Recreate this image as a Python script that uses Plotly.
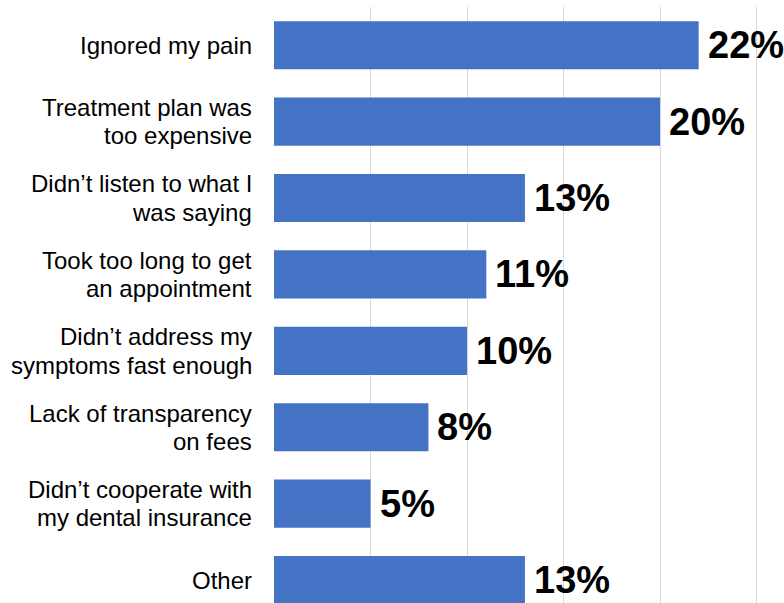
import plotly.graph_objects as go

# Reasons given for leaving a dentist (share of respondents, %)
categories = [
    "Ignored my pain",
    "Treatment plan was<br>too expensive",
    "Didn’t listen to what I<br>was saying",
    "Took too long to get<br>an appointment",
    "Didn’t address my<br>symptoms fast enough",
    "Lack of transparency<br>on fees",
    "Didn’t cooperate with<br>my dental insurance",
    "Other",
]
values = [22, 20, 13, 11, 10, 8, 5, 13]
label_texts = [f"{v}%" for v in values]

BAR_COLOR = "#4472C4"
FONT = "Liberation Sans, Arial, sans-serif"
LINE_STEP = 28.5  # px between wrapped lines of a category label

fig = go.Figure(
    go.Bar(
        x=values,
        y=list(range(len(categories))),
        orientation="h",
        marker=dict(color=BAR_COLOR, line=dict(width=0)),
        width=0.63,
        hoverinfo="skip",
    )
)

# Bold percentage labels just past the end of each bar
for i, (v, t) in enumerate(zip(values, label_texts)):
    fig.add_annotation(
        x=v, y=i, xref="x", yref="y",
        text=f"<b>{t}</b>",
        showarrow=False,
        xanchor="left", yanchor="middle",
        xshift=7,
        font=dict(family=FONT, size=38, color="#000000"),
    )

# Right-aligned category labels, one annotation per wrapped line
for i, cat in enumerate(categories):
    lines = cat.split("<br>")
    n = len(lines)
    for k, line in enumerate(lines):
        fig.add_annotation(
            x=0, y=i, xref="paper", yref="y",
            text=line,
            showarrow=False,
            xanchor="right", yanchor="middle",
            xshift=-20,
            yshift=((n - 1) / 2 - k) * LINE_STEP,
            font=dict(family=FONT, size=24, color="#000000"),
        )

fig.update_layout(
    width=784,
    height=603,
    margin=dict(l=274, r=22, t=7, b=0),
    paper_bgcolor="white",
    plot_bgcolor="white",
    showlegend=False,
    font=dict(family=FONT, size=24, color="#000000"),
)

fig.update_xaxes(
    range=[0, 25.28],
    dtick=5,
    tick0=0,
    showgrid=True,
    gridcolor="#D9D9D9",
    gridwidth=1,
    zeroline=False,
    showline=False,
    showticklabels=False,
    ticks="",
    fixedrange=True,
)

fig.update_yaxes(
    range=[7.30, -0.5],
    showgrid=False,
    zeroline=False,
    showline=False,
    showticklabels=False,
    ticks="",
    fixedrange=True,
)

fig.write_html("out.html")
